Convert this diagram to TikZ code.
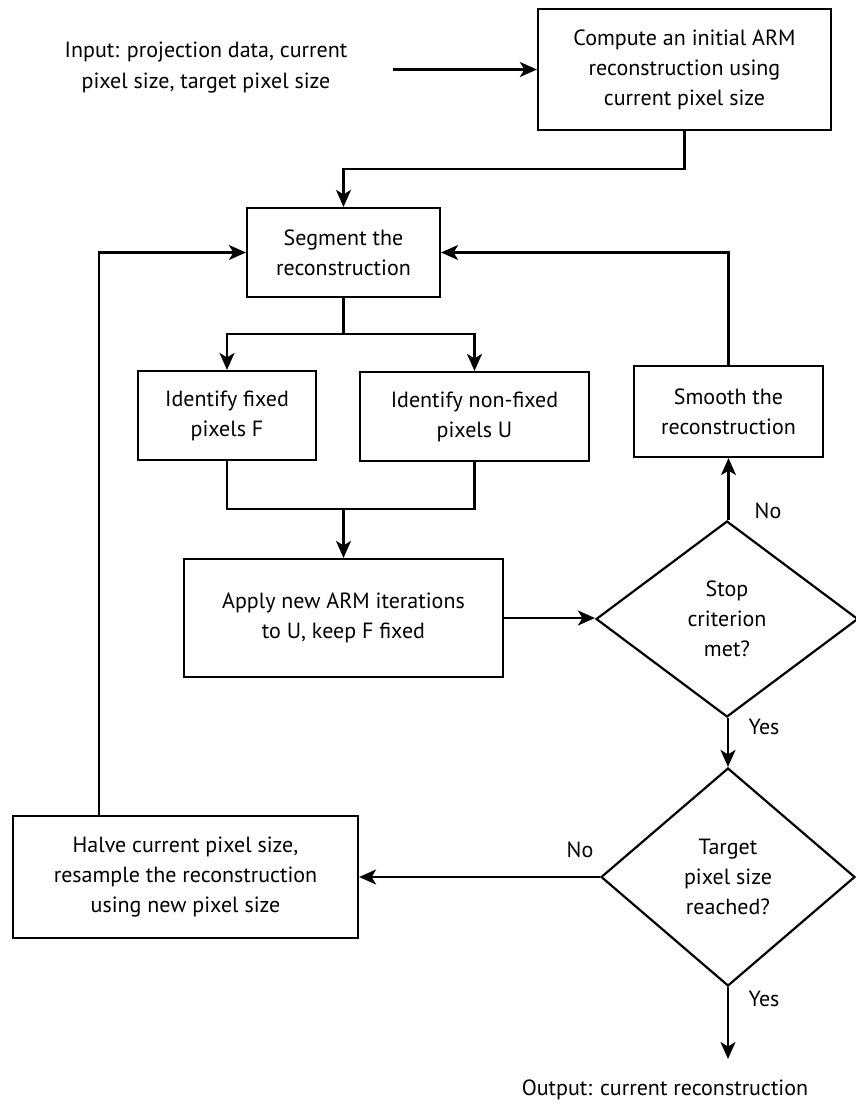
\documentclass[tikz,border=0pt]{standalone}
\usepackage{fontspec}
\setmainfont{PT Sans}
\usetikzlibrary{arrows.meta,shapes.geometric}

\tikzset{
  box/.style={draw, line width=2.2pt, inner sep=0.75pt, align=center, font=\fontsize{22}{30}\selectfont},
  decision/.style={draw, line width=2.2pt, diamond, inner sep=0pt, align=center, font=\fontsize{22}{30}\selectfont},
  txt/.style={inner sep=0.75pt, align=center, font=\fontsize{22}{31}\selectfont},
  conn/.style={line width=2.2pt},
  arr/.style={line width=2.2pt, -{Stealth[length=17pt,width=15pt,inset=4.5pt]}}
}

\begin{document}
\begin{tikzpicture}[x=1pt,y=1pt,yscale=-1,xscale=1]
\useasboundingbox (0,0) rectangle (855,1104);

% Text Node
\draw (206,68) node [txt] (inp) {Input: projection data, current\\pixel size, target pixel size};
%Shape: Rectangle
\draw (684.5,69.5) node [box, minimum width=293, minimum height=121] (comp) {Compute an initial ARM\\reconstruction using\\current pixel size};
%Shape: Rectangle
\draw (343.5,252.5) node [box, minimum width=193, minimum height=89] (seg) {Segment the\\reconstruction};
%Shape: Rectangle
\draw (227,415.5) node [box, minimum width=178, minimum height=89] (fixd) {Identify fixed\\pixels F};
%Shape: Rectangle
\draw (474.5,416.5) node [box, minimum width=229, minimum height=89] (nonfixd) {Identify non-fixed\\pixels U};
%Shape: Rectangle
\draw (343.5,618) node [box, minimum width=319, minimum height=118] (apply) {Apply new ARM iterations\\to U, keep F fixed};
%Shape: Rectangle
\draw (728.5,411.5) node [box, minimum width=189, minimum height=91] (smooth) {Smooth the\\reconstruction};
%Shape: Diamond
\draw (727,619) node [decision, minimum width=262, minimum height=196] (stop) {Stop\\criterion\\met?};
%Shape: Diamond
\draw (728,877) node [decision, minimum width=254, minimum height=218] (target) {Target\\pixel size\\reached?};
%Shape: Rectangle
\draw (185.5,877) node [box, minimum width=345, minimum height=122] (halve) {Halve current pixel size,\\resample the reconstruction\\using new pixel size};
% Text Node
\draw (665,1090) node [txt] (outp) {Output: current reconstruction};

% Text Node
\draw (768,511) node [txt] (no1) {No};
% Text Node
\draw (764,727) node [txt] (yes1) {Yes};
% Text Node
\draw (580,850) node [txt] (no2) {No};
% Text Node
\draw (764,999) node [txt] (yes2) {Yes};

\coordinate (instart) at (393,69.5);
\coordinate (outend) at (728,1059);

%Straight Lines
\draw [arr] (instart) -- (comp.west);
%Straight Lines
\draw [arr] (comp.south) |- (343.5,169) -- (seg.north);
%Straight Lines
\draw [conn] (seg.south) -- (343.5,334);
\draw [arr] (343.5,334) -| (fixd.north);
\draw [arr] (343.5,334) -| (nonfixd.north);
%Straight Lines
\draw [conn] (fixd.south) |- (343.5,509);
\draw [conn] (nonfixd.south) |- (343.5,509);
\draw [arr] (343.5,509) -- (apply.north);
%Straight Lines
\draw [arr] (apply.east) -- (apply.east -| stop.west);
%Straight Lines
\draw [arr] (stop.north -| smooth.south) -- (smooth.south);
\draw [arr] (smooth.north) |- (seg.east);
%Straight Lines
\draw [arr] (stop.south -| target.north) -- (target.north);
%Straight Lines
\draw [arr] (target.west) -- (halve.east);
\draw [arr] (halve.north -| 99,0) |- (seg.west);
%Straight Lines
\draw [arr] (target.south) -- (outend);

\end{tikzpicture}
\end{document}
